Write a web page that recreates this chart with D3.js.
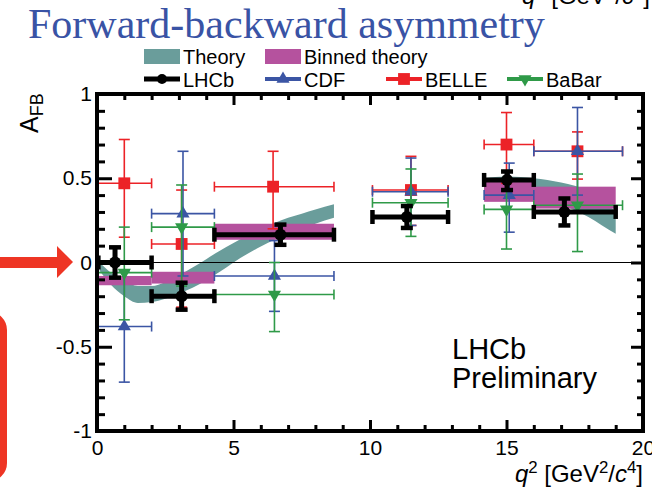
<!DOCTYPE html>
<html>
<head>
<meta charset="utf-8">
<script src="https://cdn.jsdelivr.net/npm/d3@7"></script>
<style>
  html, body { margin: 0; padding: 0; background: #fff; }
  svg { display: block; }
  text { font-family: "Liberation Sans", Arial, Helvetica, sans-serif; }
</style>
</head>
<body>
<svg id="chart" width="652" height="491"></svg>
<script>
// ---- Theory prediction band (low and high q2 regions) ----
const thLowQ2 = [0.1, 0.5, 1.0, 1.5, 2.0, 2.5, 3.0, 3.5, 4.0, 4.5, 5.0, 5.5, 6.0, 6.5, 7.0, 7.5, 8.0, 8.68];
const thLowMin = [-0.05, -0.13, -0.20, -0.24, -0.235, -0.215, -0.185, -0.15, -0.105, -0.055, 0.0, 0.05, 0.095, 0.135, 0.17, 0.20, 0.23, 0.265];
const thLowMax = [0.0, -0.06, -0.11, -0.14, -0.14, -0.115, -0.075, -0.03, 0.02, 0.07, 0.115, 0.16, 0.20, 0.235, 0.265, 0.29, 0.315, 0.345];
const thHighQ2 = [14.18, 15.0, 16.0, 16.5, 17.0, 17.5, 18.0, 18.5, 19.0];
const thHighMin = [0.40, 0.40, 0.38, 0.36, 0.34, 0.31, 0.27, 0.22, 0.17];
const thHighMax = [0.50, 0.51, 0.50, 0.49, 0.475, 0.455, 0.425, 0.38, 0.30];

// ---- Binned theory ----
const binLo = [0.05, 2.0, 4.3, 14.18, 16.0];
const binHi = [2.0, 4.3, 8.68, 16.0, 19.0];
const binMin = [-0.135, -0.125, 0.135, 0.36, 0.32];
const binMax = [-0.08, -0.055, 0.23, 0.50, 0.45];

// ---- LHCb ----
const lhcbQ2 = [0.66, 3.10, 6.72, 11.35, 15.02, 17.12];
const lhcbLo = [0.05, 2.0, 4.3, 10.09, 14.18, 16.0];
const lhcbHi = [2.0, 4.3, 8.68, 12.86, 16.0, 19.0];
const lhcbAfb = [0.00, -0.20, 0.165, 0.27, 0.49, 0.30];
const lhcbUp = [0.09, 0.08, 0.06, 0.065, 0.05, 0.08];
const lhcbDn = [0.09, 0.08, 0.06, 0.065, 0.06, 0.08];

// ---- CDF ----
const cdfQ2 = [1.0, 3.15, 6.5, 11.5, 15.1, 17.6];
const cdfLo = [0.0, 2.0, 4.3, 10.09, 14.18, 16.0];
const cdfHi = [2.0, 4.3, 8.68, 12.86, 16.0, 19.25];
const cdfAfb = [-0.38, 0.29, -0.08, 0.42, 0.40, 0.66];
const cdfUp = [0.33, 0.37, 0.21, 0.20, 0.19, 0.26];
const cdfDn = [0.33, 0.37, 0.21, 0.20, 0.22, 0.26];

// ---- BELLE ----
const belleQ2 = [1.0, 3.1, 6.45, 11.5, 15.0, 17.6];
const belleLo = [0.0, 2.0, 4.3, 10.09, 14.18, 16.0];
const belleHi = [2.0, 4.3, 8.68, 12.86, 16.0, 19.25];
const belleAfb = [0.47, 0.11, 0.45, 0.43, 0.70, 0.66];
const belleUp = [0.26, 0.32, 0.21, 0.20, 0.19, 0.115];
const belleDn = [0.32, 0.375, 0.25, 0.21, 0.23, 0.165];

// ---- BaBar ----
const babarQ2 = [1.0, 3.1, 6.5, 11.5, 15.0, 17.6];
const babarLo = [0.0, 2.0, 4.3, 10.09, 14.18, 16.0];
const babarHi = [2.0, 4.3, 8.68, 12.86, 16.0, 19.25];
const babarAfb = [-0.06, 0.21, -0.19, 0.355, 0.315, 0.34];
const babarUp = [0.27, 0.25, 0.19, 0.20, 0.23, 0.185];
const babarDn = [0.28, 0.35, 0.22, 0.20, 0.235, 0.275];

// ---- Axes ----
const xMajor = [0, 5, 10, 15, 20];
const xMinor = [1, 2, 3, 4, 6, 7, 8, 9, 11, 12, 13, 14, 16, 17, 18, 19];
const yMajor = [-1, -0.5, 0, 0.5, 1];
const yTickLabels = ["-1", "-0.5", "0", "0.5", "1"];
const yMinor = d3.range(-10, 11).filter(d => d % 5 !== 0).map(d => d / 10);

const COL = {
  theory: "#6a9d9b",
  binned: "#b5529e",
  lhcb: "#000000",
  cdf: "#3b55a4",
  belle: "#ec2227",
  babar: "#2f9a48",
  title: "#3953a5",
  arrow: "#ee3524"
};

const svg = d3.select("#chart");
const x = d3.scaleLinear().domain([0, 20]).range([97, 643]);
const y = d3.scaleLinear().domain([-1, 1]).range([431, 94]);

// Title
const title = svg.append("text")
  .attr("x", 28).attr("y", 38)
  .style("font-family", '"Liberation Serif", "Times New Roman", serif')
  .style("font-size", "42px")
  .attr("fill", COL.title)
  .text("Forward-backward asymmetry");
{
  const w = title.node().getComputedTextLength();
  title.style("font-size", (42 * 517 / w).toFixed(2) + "px");
}

// q2 axis caption (also repeated at the very top, running off the page)
function q2Label(sel, xr, yb, fs) {
  const t = sel.append("text").attr("x", xr).attr("y", yb)
    .attr("text-anchor", "end").style("font-size", fs + "px").attr("fill", "#000");
  const sup = (txt) => {
    t.append("tspan").attr("dy", -fs * 0.38).style("font-size", (fs * 0.7) + "px").text(txt);
  };
  t.append("tspan").style("font-style", "italic").text("q");
  sup("2");
  t.append("tspan").attr("dy", fs * 0.38).text(" [GeV");
  sup("2");
  t.append("tspan").attr("dy", fs * 0.38).text("/");
  t.append("tspan").style("font-style", "italic").text("c");
  sup("4");
  t.append("tspan").attr("dy", fs * 0.38).text("]");
  return t;
}
q2Label(svg, 650, 4, 24);

// Red annotation arrow and box
svg.append("polygon")
  .attr("points", [[0, 257], [57, 257], [57, 246], [73, 262], [57, 278], [57, 268], [0, 268]].join(" "))
  .attr("fill", COL.arrow);
svg.append("rect")
  .attr("x", -60).attr("y", 315).attr("width", 63.5).attr("height", 163)
  .attr("rx", 15).attr("fill", "none")
  .attr("stroke", COL.arrow).attr("stroke-width", 7);

// Plot contents
const plot = svg.append("g");

// Theory band
const area = d3.area()
  .x(d => x(d[0])).y0(d => y(d[1])).y1(d => y(d[2]))
  .curve(d3.curveMonotoneX);
const lowBand = thLowQ2.map((q, i) => [q, thLowMin[i], thLowMax[i]]);
const highBand = thHighQ2.map((q, i) => [q, thHighMin[i], thHighMax[i]]);
plot.selectAll("path.theory").data([lowBand, highBand]).join("path")
  .attr("class", "theory").attr("d", area).attr("fill", COL.theory);

// Binned theory
plot.selectAll("rect.binned").data(binLo.map((lo, i) => ({ lo, hi: binHi[i], mn: binMin[i], mx: binMax[i] })))
  .join("rect").attr("class", "binned")
  .attr("x", d => x(d.lo)).attr("width", d => x(d.hi) - x(d.lo))
  .attr("y", d => y(d.mx)).attr("height", d => y(d.mn) - y(d.mx))
  .attr("fill", COL.binned);

// Zero line
plot.append("line")
  .attr("x1", x(0)).attr("x2", x(20)).attr("y1", y(0)).attr("y2", y(0))
  .attr("stroke", "#000").attr("stroke-width", 1);

// Error bars + markers
function series(q, lo, hi, v, up, dn, color, opt) {
  const g = plot.append("g");
  const data = q.map((d, i) => ({ q: d, lo: lo[i], hi: hi[i], v: v[i], up: up[i], dn: dn[i] }));
  const lw = opt.lw, capH = opt.capH, capW = opt.capW, capT = opt.capT;
  data.forEach(d => {
    const cx = x(d.q), cy = y(d.v);
    g.append("line").attr("x1", x(d.lo)).attr("x2", x(d.hi)).attr("y1", cy).attr("y2", cy)
      .attr("stroke", color).attr("stroke-width", lw);
    g.append("line").attr("x1", cx).attr("x2", cx).attr("y1", y(d.v + d.up)).attr("y2", y(d.v - d.dn))
      .attr("stroke", color).attr("stroke-width", lw);
    // end caps of the bin width
    [x(d.lo), x(d.hi)].forEach(px => {
      g.append("line").attr("x1", px).attr("x2", px).attr("y1", cy - capH).attr("y2", cy + capH)
        .attr("stroke", color).attr("stroke-width", capT);
    });
    // end caps of the uncertainty
    [y(d.v + d.up), y(d.v - d.dn)].forEach(py => {
      g.append("line").attr("x1", cx - capW).attr("x2", cx + capW).attr("y1", py).attr("y2", py)
        .attr("stroke", color).attr("stroke-width", capT);
    });
    g.append("path").attr("d", opt.symbol())
      .attr("transform", `translate(${cx},${cy})` + (opt.rot ? ` rotate(${opt.rot})` : ""))
      .attr("fill", color);
  });
}
const symSquare = d3.symbol().type(d3.symbolSquare).size(140);
const symTri = d3.symbol().type(d3.symbolTriangle).size(75);
const symCircle = d3.symbol().type(d3.symbolCircle).size(Math.PI * 36);

series(belleQ2, belleLo, belleHi, belleAfb, belleUp, belleDn, COL.belle,
  { lw: 1.6, capH: 5, capW: 5.5, capT: 1.6, symbol: symSquare });
series(cdfQ2, cdfLo, cdfHi, cdfAfb, cdfUp, cdfDn, COL.cdf,
  { lw: 1.6, capH: 5, capW: 5.5, capT: 1.6, symbol: symTri });
series(babarQ2, babarLo, babarHi, babarAfb, babarUp, babarDn, COL.babar,
  { lw: 1.6, capH: 5, capW: 5.5, capT: 1.6, symbol: symTri, rot: 180 });
series(lhcbQ2, lhcbLo, lhcbHi, lhcbAfb, lhcbUp, lhcbDn, COL.lhcb,
  { lw: 5, capH: 7, capW: 6, capT: 4.5, symbol: symCircle });

// Axes: major/minor ticks on all four sides, pointing inwards
function styleAxis(g) {
  g.select(".domain").remove();
  g.selectAll(".tick line").attr("stroke", "#000").attr("stroke-width", 3);
  g.selectAll(".tick text").style("font-size", "21px").attr("fill", "#000")
    .style("font-family", '"Liberation Sans", Arial, Helvetica, sans-serif');
}
svg.append("g").attr("transform", `translate(${x(0)},0)`)
  .call(d3.axisLeft(y).tickValues(yMajor).tickSizeInner(-15).tickSizeOuter(0).tickPadding(5)
    .tickFormat((d, i) => yTickLabels[i]))
  .call(styleAxis);
svg.append("g").attr("transform", `translate(${x(0)},0)`)
  .call(d3.axisLeft(y).tickValues(yMinor).tickSizeInner(-8).tickSizeOuter(0).tickFormat(""))
  .call(styleAxis);
svg.append("g").attr("transform", `translate(${x(20)},0)`)
  .call(d3.axisRight(y).tickValues(yMajor).tickSizeInner(-12).tickSizeOuter(0).tickFormat(""))
  .call(styleAxis);
svg.append("g").attr("transform", `translate(${x(20)},0)`)
  .call(d3.axisRight(y).tickValues(yMinor).tickSizeInner(-6).tickSizeOuter(0).tickFormat(""))
  .call(styleAxis);
svg.append("g").attr("transform", `translate(0,${y(-1)})`)
  .call(d3.axisBottom(x).tickValues(xMajor).tickSizeInner(-11).tickSizeOuter(0).tickPadding(9)
    .tickFormat(d3.format("d")))
  .call(styleAxis);
svg.append("g").attr("transform", `translate(0,${y(-1)})`)
  .call(d3.axisBottom(x).tickValues(xMinor).tickSizeInner(-6).tickSizeOuter(0).tickFormat(""))
  .call(styleAxis);
svg.append("g").attr("transform", `translate(0,${y(1)})`)
  .call(d3.axisTop(x).tickValues(xMajor).tickSizeInner(-11).tickSizeOuter(0).tickFormat(""))
  .call(styleAxis);
svg.append("g").attr("transform", `translate(0,${y(1)})`)
  .call(d3.axisTop(x).tickValues(xMinor).tickSizeInner(-6).tickSizeOuter(0).tickFormat(""))
  .call(styleAxis);

// Frame
svg.append("rect")
  .attr("x", x(0)).attr("y", y(1)).attr("width", x(20) - x(0)).attr("height", y(-1) - y(1))
  .attr("fill", "none").attr("stroke", "#000").attr("stroke-width", 4);

// Axis titles
const yt = svg.append("text").attr("transform", "translate(38,133) rotate(-90)")
  .style("font-size", "25px").attr("fill", "#000");
yt.append("tspan").text("A");
yt.append("tspan").attr("dy", 5).style("font-size", "18px").text("FB");

q2Label(svg, 643, 482, 24);

// Experiment label
svg.append("text").attr("x", 452).attr("y", 359).style("font-size", "29px").text("LHCb");
svg.append("text").attr("x", 452).attr("y", 388).style("font-size", "29px").text("Preliminary");

// Legend
const leg = svg.append("g");
const legFont = "20px";
[[144, "Theory", COL.theory], [265, "Binned theory", COL.binned]].forEach(([lx, name, c]) => {
  leg.append("rect").attr("x", lx).attr("y", 49).attr("width", 36).attr("height", 15).attr("fill", c);
  leg.append("text").attr("x", lx + 39).attr("y", 64).style("font-size", legFont).text(name);
});
const legItems = [
  [144, "LHCb", COL.lhcb, symCircle, 0, 5],
  [265, "CDF", COL.cdf, symTri, 0, 4],
  [386, "BELLE", COL.belle, symSquare, 0, 4],
  [507, "BaBar", COL.babar, symTri, 180, 4]
];
legItems.forEach(([lx, name, c, sym, rot, lw]) => {
  leg.append("line").attr("x1", lx).attr("x2", lx + 36).attr("y1", 79).attr("y2", 79)
    .attr("stroke", c).attr("stroke-width", lw);
  leg.append("path").attr("d", name === "LHCb" ? d3.symbol().type(d3.symbolCircle).size(Math.PI * 25)() : sym())
    .attr("transform", `translate(${lx + 18},79)` + (rot ? ` rotate(${rot})` : "")).attr("fill", c);
  leg.append("text").attr("x", lx + 39).attr("y", 87).style("font-size", legFont).text(name);
});
</script>
</body>
</html>
